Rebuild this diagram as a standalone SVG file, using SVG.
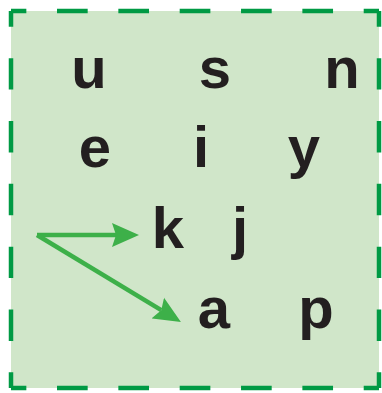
<svg xmlns="http://www.w3.org/2000/svg" width="382" height="393" viewBox="0 0 382 393">
  <style>
    .lbl { font-family: "Liberation Sans", Arial, sans-serif; font-weight: bold; font-size: 58px; fill: #231f20; text-anchor: middle; }
    .edge { stroke: #009a44; stroke-width: 4.5; fill: none; }
    .h { stroke-dasharray: 30.67 30.67; stroke-dashoffset: 15.33; }
    .v { stroke-dasharray: 31.42 31.42; stroke-dashoffset: 15.71; }
    .conn { stroke: #3db049; stroke-width: 4.5; fill: none; marker-end: url(#ah); }
  </style>
  <defs>
    <marker id="ah" markerUnits="userSpaceOnUse" markerWidth="30" markerHeight="26" viewBox="0 -13 30 26" refX="4" refY="0" orient="auto">
      <path d="M0,-12 L27,0 L0,12 L4,0 Z" fill="#3db049"/>
    </marker>
  </defs>
  <g id="frame">
    <rect x="11" y="11" width="368" height="377" fill="#d0e6c9"/>
    <line class="edge h" x1="11" y1="11" x2="379" y2="11"/>
    <line class="edge h" x1="11" y1="388" x2="379" y2="388"/>
    <line class="edge v" x1="11" y1="11" x2="11" y2="388"/>
    <line class="edge v" x1="379" y1="11" x2="379" y2="388"/>
  </g>
  <g id="connectors">
    <path class="conn" d="M37,235 L116,235"/>
    <path class="conn" d="M37,235 L161.25,310.2"/>
  </g>
  <g id="node-u"><text class="lbl" x="89" y="88">u</text></g>
  <g id="node-s"><text class="lbl" x="215" y="88">s</text></g>
  <g id="node-n"><text class="lbl" x="342" y="88">n</text></g>
  <g id="node-e"><text class="lbl" x="95" y="167">e</text></g>
  <g id="node-i"><text class="lbl" x="201" y="167">i</text></g>
  <g id="node-y"><text class="lbl" x="304" y="167">y</text></g>
  <g id="node-k"><text class="lbl" x="168" y="248">k</text></g>
  <g id="node-j"><text class="lbl" x="240" y="248">j</text></g>
  <g id="node-a"><text class="lbl" x="214" y="328">a</text></g>
  <g id="node-p"><text class="lbl" x="316" y="328">p</text></g>
</svg>
